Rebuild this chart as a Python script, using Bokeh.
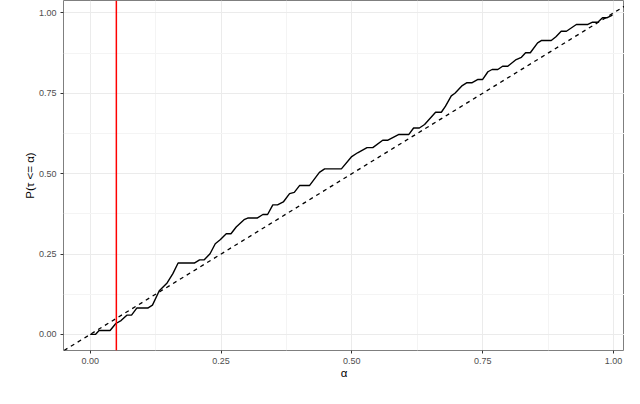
from bokeh.plotting import figure
from bokeh.models import Range1d, FixedTicker, PrintfTickFormatter, Span, Slope
from bokeh.embed import file_html
from bokeh.resources import INLINE

alpha = [0.000, 0.010, 0.017, 0.038, 0.049, 0.059, 0.070, 0.079, 0.089, 0.110,
         0.119, 0.132, 0.147, 0.158, 0.168, 0.199, 0.209, 0.218, 0.229, 0.239,
         0.249, 0.260, 0.269, 0.279, 0.294, 0.301, 0.319, 0.330, 0.339, 0.349,
         0.358, 0.369, 0.381, 0.390, 0.400, 0.419, 0.438, 0.448, 0.480, 0.499,
         0.511, 0.529, 0.540, 0.559, 0.569, 0.590, 0.609, 0.618, 0.629, 0.639,
         0.660, 0.671, 0.679, 0.690, 0.697, 0.711, 0.720, 0.730, 0.741, 0.750,
         0.760, 0.768, 0.779, 0.788, 0.798, 0.814, 0.824, 0.832, 0.841, 0.855,
         0.862, 0.881, 0.890, 0.900, 0.910, 0.929, 0.951, 0.960, 0.970, 0.979,
         0.988, 0.998]
prob = [0.000, 0.000, 0.012, 0.012, 0.034, 0.043, 0.060, 0.060, 0.082, 0.082,
        0.091, 0.136, 0.160, 0.189, 0.222, 0.222, 0.232, 0.232, 0.251, 0.282,
        0.295, 0.313, 0.313, 0.334, 0.357, 0.362, 0.362, 0.373, 0.373, 0.403,
        0.403, 0.412, 0.438, 0.442, 0.463, 0.463, 0.504, 0.515, 0.515, 0.552,
        0.565, 0.581, 0.581, 0.604, 0.604, 0.622, 0.622, 0.642, 0.642, 0.653,
        0.691, 0.691, 0.710, 0.742, 0.750, 0.774, 0.783, 0.783, 0.793, 0.793,
        0.817, 0.824, 0.824, 0.834, 0.834, 0.855, 0.862, 0.876, 0.876, 0.907,
        0.914, 0.914, 0.926, 0.943, 0.943, 0.964, 0.964, 0.971, 0.971, 0.985,
        0.985, 0.993]

alpha_level = 0.05          # red vertical reference line
major_ticks = [0.0, 0.25, 0.5, 0.75, 1.0]
minor_ticks = [0.125, 0.375, 0.625, 0.875]

FONT = "Liberation Sans"

p = figure(width=624, height=388, output_backend="svg", toolbar_location=None,
           x_range=Range1d(-0.051, 1.021), y_range=Range1d(-0.05, 1.0386),
           min_border_left=63, min_border_right=0, min_border_top=0,
           min_border_bottom=38)
p.background_fill_color = "white"
p.border_fill_color = "white"
p.outline_line_color = "#7f7f7f"
p.outline_line_width = 1

for ax in (p.xaxis[0], p.yaxis[0]):
    ax.ticker = FixedTicker(ticks=major_ticks, minor_ticks=minor_ticks)
    ax.formatter = PrintfTickFormatter(format="%.2f")
    ax.axis_line_color = None
    ax.major_tick_line_color = "#333333"
    ax.major_tick_out = 3
    ax.major_tick_in = 0
    ax.minor_tick_line_color = None
    ax.major_label_text_font = FONT
    ax.major_label_text_font_size = "9px"
    ax.major_label_text_color = "#4d4d4d"
    ax.major_label_standoff = 3
    ax.axis_label_text_font = FONT
    ax.axis_label_text_font_size = "11.5px"
    ax.axis_label_text_font_style = "normal"
    ax.axis_label_text_color = "black"

p.xaxis.axis_label = "α"
p.yaxis.axis_label = "P(τ <= α)"
p.xaxis.axis_label_standoff = 0
p.yaxis.axis_label_standoff = 0

for g in (p.xgrid[0], p.ygrid[0]):
    g.ticker = FixedTicker(ticks=major_ticks, minor_ticks=minor_ticks)
    g.grid_line_color = "#ebebeb"
    g.grid_line_width = 1
    g.minor_grid_line_color = "#f4f4f4"
    g.minor_grid_line_width = 1

p.line(alpha, prob, line_color="black", line_width=1.4)

diag = Slope(gradient=1, y_intercept=0, line_color="black", line_width=1.3,
             line_dash="4 4")
p.add_layout(diag)

vline = Span(location=alpha_level, dimension="height", line_color="red",
             line_width=1.5)
p.add_layout(vline)

open("out.html", "w").write(file_html(p, INLINE))
